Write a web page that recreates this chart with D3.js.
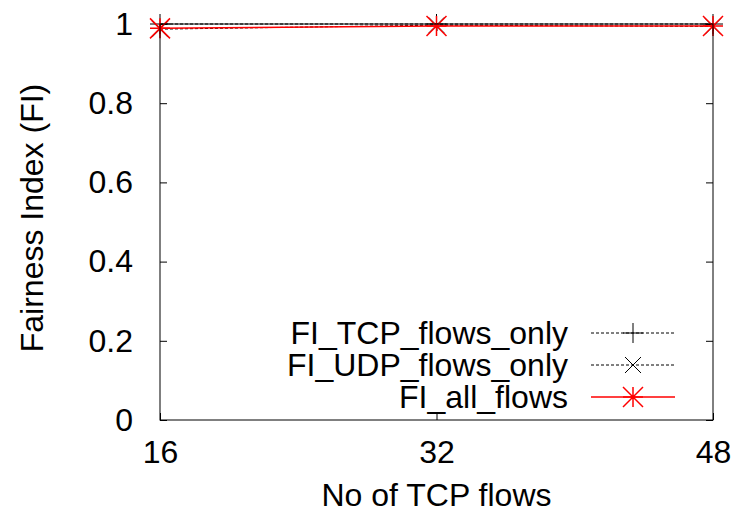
<!DOCTYPE html>
<html>
<head>
<meta charset="utf-8">
<script src="https://cdn.jsdelivr.net/npm/d3@7"></script>
<style>
  body { margin: 0; background: #fff; }
  text { font-family: "Liberation Sans", Arial, Helvetica, sans-serif; fill: #000; }
</style>
</head>
<body>
<div id="chart"></div>
<script>
"use strict";

// Data
var flows = [16, 32, 48];
var fiTcpOnly = [1.0, 1.0, 1.0];
var fiUdpOnly = [0.987, 0.997, 0.994];
var fiAll = [0.989, 0.995, 0.995];
var yTicks = [0, 0.2, 0.4, 0.6, 0.8, 1];
var seriesNames = ["FI_TCP_flows_only", "FI_UDP_flows_only", "FI_all_flows"];

var W = 732, H = 516;
var margin = { top: 24, right: 19, bottom: 96, left: 160 };
var width = W - margin.left - margin.right;
var height = H - margin.top - margin.bottom;
var fontSize = 32;

var svg = d3.select("#chart").append("svg")
    .attr("width", W)
    .attr("height", H);

var g = svg.append("g")
    .attr("transform", "translate(" + margin.left + "," + margin.top + ")");

var xScale = d3.scaleLinear().domain([16, 48]).range([0, width]);
var yScale = d3.scaleLinear().domain([0, 1]).range([height, 0]);

// ticks (gnuplot style, inward and mirrored)
var tickLen = 7;
var xAxis = d3.axisBottom(xScale).tickValues(flows).tickSize(-tickLen).tickFormat(d3.format("d"));
var xAxisTop = d3.axisTop(xScale).tickValues(flows).tickSize(-tickLen).tickFormat("");
var yAxis = d3.axisLeft(yScale).tickValues(yTicks).tickSize(-tickLen).tickPadding(20 + tickLen)
    .tickFormat(function (d) { return d === 0 || d === 1 ? d3.format("d")(d) : d3.format(".1f")(d); });
var yAxisRight = d3.axisRight(yScale).tickValues(yTicks).tickSize(-tickLen).tickFormat("");

function styleAxis(sel) {
    sel.select(".domain").remove();
    sel.selectAll(".tick line").attr("stroke", "#000").attr("stroke-width", 1);
    sel.selectAll(".tick text")
        .attr("font-size", fontSize)
        .attr("font-family", "Liberation Sans, Arial, sans-serif")
        .attr("fill", "#000");
}

g.append("g").attr("transform", "translate(0," + height + ")").call(xAxis).call(styleAxis)
    .selectAll(".tick text").attr("dy", null).attr("y", 43);
g.append("g").call(xAxisTop).call(styleAxis);
g.append("g").call(yAxis).call(styleAxis);
g.append("g").attr("transform", "translate(" + width + ",0)").call(yAxisRight).call(styleAxis);

// Axis labels
svg.append("text")
    .attr("x", margin.left + width / 2)
    .attr("y", 506)
    .attr("text-anchor", "middle")
    .attr("font-size", fontSize)
    .text("No of TCP flows");

svg.append("text")
    .attr("transform", "translate(43," + (margin.top + height / 2 - 4) + ")rotate(-90)")
    .attr("text-anchor", "middle")
    .attr("font-size", fontSize)
    .text("Fairness Index (FI)");

// Markers
function plusPath(s) { return "M" + (-s) + ",0H" + s + "M0," + (-s) + "V" + s; }
function crossPath(s) { return "M" + (-s) + "," + (-s) + "L" + s + "," + s + "M" + (-s) + "," + s + "L" + s + "," + (-s); }
function starPath(s) { return plusPath(s) + crossPath(s); }

var series = [
    { name: seriesNames[0], values: fiTcpOnly, color: "#000", dash: "3,2", width: 1, marker: plusPath(10) },
    { name: seriesNames[1], values: fiUdpOnly, color: "#000", dash: "3,2", width: 1, marker: crossPath(8) },
    { name: seriesNames[2], values: fiAll, color: "#ff0000", dash: null, width: 1.5, marker: starPath(10) }
];

var line = d3.line()
    .x(function (d) { return xScale(d[0]); })
    .y(function (d) { return yScale(d[1]); });

series.forEach(function (s) {
    var pts = flows.map(function (f, i) { return [f, s.values[i]]; });
    g.append("path")
        .datum(pts)
        .attr("d", line)
        .attr("fill", "none")
        .attr("stroke", s.color)
        .attr("stroke-width", s.width)
        .attr("stroke-dasharray", s.dash);
    g.selectAll(null)
        .data(pts)
        .enter().append("path")
        .attr("transform", function (d) { return "translate(" + xScale(d[0]) + "," + yScale(d[1]) + ")"; })
        .attr("d", s.marker)
        .attr("fill", "none")
        .attr("stroke", s.color)
        .attr("stroke-width", s.width);
});

// Border
g.append("rect")
    .attr("width", width)
    .attr("height", height)
    .attr("fill", "none")
    .attr("stroke", "#000")
    .attr("stroke-width", 1);

// Legend
var legend = svg.append("g");
var legendRows = [333, 365, 397];
series.forEach(function (s, i) {
    var y = legendRows[i];
    legend.append("text")
        .attr("x", 568)
        .attr("y", y)
        .attr("dy", "0.35em")
        .attr("text-anchor", "end")
        .attr("font-size", fontSize)
        .text(s.name);
    legend.append("line")
        .attr("x1", 591).attr("x2", 675)
        .attr("y1", y).attr("y2", y)
        .attr("stroke", s.color)
        .attr("stroke-width", s.width)
        .attr("stroke-dasharray", s.dash);
    legend.append("path")
        .attr("transform", "translate(633," + y + ")")
        .attr("d", s.marker)
        .attr("fill", "none")
        .attr("stroke", s.color)
        .attr("stroke-width", s.width);
});
</script>
</body>
</html>
